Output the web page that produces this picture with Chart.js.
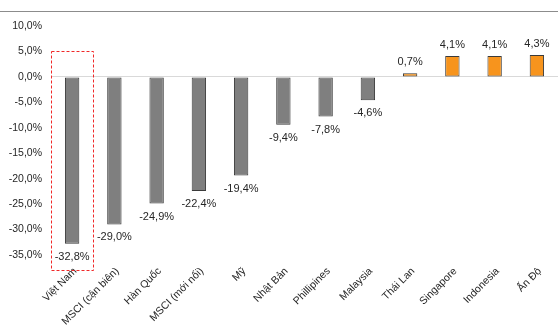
<!DOCTYPE html>
<html>
<head>
<meta charset="utf-8">
<script src="https://cdn.jsdelivr.net/npm/chart.js@4/dist/chart.umd.min.js"></script>
<style>
  html, body { margin: 0; padding: 0; background: #fff; }
  #wrap { position: relative; width: 558px; height: 325px; }
  #topline { position: absolute; left: 0; top: 11px; width: 558px; border-top: 1px solid #8c8c8c; }
</style>
</head>
<body>
<div id="wrap">
  <canvas id="chart" width="558" height="325"></canvas>
  <div id="topline"></div>
</div>
<script>
const categories = ['Việt Nam', 'MSCI (cận biên)', 'Hàn Quốc', 'MSCI (mới nổi)', 'Mỹ', 'Nhật Bản',
  'Phillipines', 'Malaysia', 'Thái Lan', 'Singapore', 'Indonesia', 'Ấn Độ'];
const changes = [-32.8, -29.0, -24.9, -22.4, -19.4, -9.4, -7.8, -4.6, 0.7, 4.1, 4.1, 4.3];
const yTicks = [10, 5, 0, -5, -10, -15, -20, -25, -30, -35];

const fmt = v => v.toFixed(1).replace('.', ',') + '%';

// value labels below/above each bar
const valueLabels = {
  id: 'valueLabels',
  afterDatasetsDraw(chart) {
    const ctx = chart.ctx;
    const meta = chart.getDatasetMeta(0);
    ctx.save();
    ctx.font = '11px "Liberation Sans", Arial, sans-serif';
    ctx.fillStyle = '#262626';
    ctx.textAlign = 'center';
    ctx.textBaseline = 'middle';
    meta.data.forEach((bar, i) => {
      const v = changes[i];
      const y = v < 0 ? bar.y + 13 : bar.y - 11;
      ctx.fillText(fmt(v), bar.x, y);
    });
    ctx.restore();
  }
};

// dashed highlight around the first category
const highlight = {
  id: 'highlight',
  afterDraw(chart) {
    const x = chart.scales.x, y = chart.scales.y;
    const half = (x.getPixelForValue(1) - x.getPixelForValue(0)) / 2;
    const left = x.getPixelForValue(0) - half;
    const right = x.getPixelForValue(0) + half;
    const top = y.getPixelForValue(5);
    const bottom = chart.chartArea.bottom + 15;
    const ctx = chart.ctx;
    ctx.save();
    ctx.strokeStyle = '#f02828';
    ctx.lineWidth = 1;
    ctx.setLineDash([3, 2]);
    ctx.strokeRect(Math.round(left) + 0.5, Math.round(top) + 0.5, Math.round(right - left), Math.round(bottom - top));
    ctx.restore();
  }
};

new Chart(document.getElementById('chart'), {
  type: 'bar',
  data: {
    labels: categories,
    datasets: [{
      data: changes,
      backgroundColor: changes.map(v => v < 0 ? '#7f7f7f' : '#f7941d'),
      borderColor: '#3a3a3a',
      borderWidth: 1,
      borderSkipped: false,
      categoryPercentage: 1,
      barPercentage: 0.34
    }]
  },
  options: {
    responsive: false,
    animation: false,
    layout: { padding: { top: 26, right: 0, left: 0, bottom: 0 } },
    plugins: { legend: { display: false }, tooltip: { enabled: false } },
    scales: {
      x: {
        grid: { display: false },
        border: { display: false },
        ticks: {
          minRotation: 45,
          maxRotation: 45,
          autoSkip: false,
          padding: 2,
          labelOffset: 3,
          color: '#262626',
          font: { family: '"Liberation Sans", Arial, sans-serif', size: 10.5 }
        },
        afterFit: s => { s.height = 70; }
      },
      y: {
        min: -35,
        max: 10,
        afterBuildTicks: s => { s.ticks = yTicks.map(v => ({ value: v })); },
        grid: {
          drawTicks: false,
          color: c => c.tick && c.tick.value === 0 ? '#d9d9d9' : 'rgba(0,0,0,0)'
        },
        border: { display: false },
        ticks: {
          padding: 9,
          color: '#262626',
          font: { family: '"Liberation Sans", Arial, sans-serif', size: 10.5 },
          callback: v => fmt(v)
        },
        afterFit: s => { s.width = 51; }
      }
    }
  },
  plugins: [valueLabels, highlight]
});
</script>
</body>
</html>
